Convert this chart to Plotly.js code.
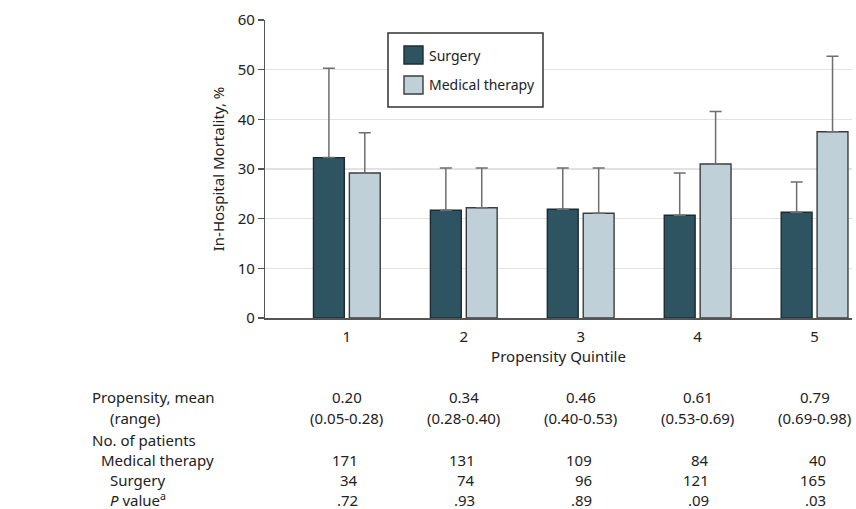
<!DOCTYPE html>
<html>
<head>
<meta charset="utf-8">
<script src="https://cdn.plot.ly/plotly-3.0.1.min.js"></script>
<style>html,body{margin:0;padding:0;background:#fff;}#chart{width:856px;height:509px;}</style>
</head>
<body>
<div id="chart"></div>
<script>
// ---- data ----
const quintiles = [1, 2, 3, 4, 5];
const surgery = [32.3, 21.7, 21.9, 20.7, 21.3];
const surgeryUpper = [50.3, 30.2, 30.2, 29.2, 27.4];
const medical = [29.2, 22.2, 21.1, 31.0, 37.5];
const medicalUpper = [37.3, 30.2, 30.2, 41.6, 52.7];
const propMean = ["0.20", "0.34", "0.46", "0.61", "0.79"];
const propRange = ["(0.05-0.28)", "(0.28-0.40)", "(0.40-0.53)", "(0.53-0.69)", "(0.69-0.98)"];
const nMedical = [171, 131, 109, 84, 40];
const nSurgery = [34, 74, 96, 121, 165];
const pValues = [".72", ".93", ".89", ".09", ".03"];
const rowLabels = ["Propensity, mean", "(range)", "No. of patients", "Medical therapy", "Surgery", "<i>P</i> value<sup>a</sup>"];

// ---- layout helpers ----
const W = 856, H = 509;
const M = {l: 265, r: 4, t: 20, b: 191};
const plotW = W - M.l - M.r, plotH = H - M.t - M.b;
const px2x = px => (px - M.l) / plotW;
const py2y = py => (H - M.b - py) / plotH;
const FONT = "Noto Sans, Open Sans, Liberation Sans, sans-serif";
const TXT = "#222";

const errUp = (v, u) => u.map((x, i) => +(x - v[i]).toFixed(2));

const traces = [
  {
    type: "bar", name: "Surgery", x: quintiles, y: surgery,
    marker: {color: "#2e5461", line: {color: "#1d2b31", width: 1.4}},
    error_y: {type: "data", symmetric: false, array: errUp(surgery, surgeryUpper),
      arrayminus: surgery.map(() => 0), color: "#6e6e6e", thickness: 1.5, width: 6},
    hoverinfo: "skip"
  },
  {
    type: "bar", name: "Medical therapy", x: quintiles, y: medical,
    marker: {color: "#bfd0d9", line: {color: "#3c3c3c", width: 1.4}},
    error_y: {type: "data", symmetric: false, array: errUp(medical, medicalUpper),
      arrayminus: medical.map(() => 0), color: "#6e6e6e", thickness: 1.5, width: 6},
    hoverinfo: "skip"
  }
];

const annotations = [];
const rowY = [397, 418, 440, 460, 480, 500];
const rowX = [90, 108, 90, 99, 108, 108];
rowLabels.forEach((t, i) => annotations.push({
  text: t, xref: "paper", yref: "paper", x: px2x(rowX[i]), y: py2y(rowY[i]),
  xanchor: "left", yanchor: "middle", showarrow: false, font: {family: FONT, size: 15, color: TXT}
}));
quintiles.forEach((q, i) => {
  const common = {xref: "x", yref: "paper", showarrow: false, yanchor: "middle", font: {family: FONT, size: 15, color: TXT}};
  annotations.push(Object.assign({}, common, {text: propMean[i], x: q, y: py2y(rowY[0]), xanchor: "center"}));
  annotations.push(Object.assign({}, common, {text: propRange[i], x: q, y: py2y(rowY[1]), xanchor: "center"}));
  annotations.push(Object.assign({}, common, {text: String(nMedical[i]), x: q, xshift: 13, y: py2y(rowY[3]), xanchor: "right"}));
  annotations.push(Object.assign({}, common, {text: String(nSurgery[i]), x: q, xshift: 13, y: py2y(rowY[4]), xanchor: "right"}));
  annotations.push(Object.assign({}, common, {text: pValues[i], x: q, xshift: 13, y: py2y(rowY[5]), xanchor: "right"}));
});

// custom legend
const legendItems = [{name: traces[0].name, color: traces[0].marker.color, line: traces[0].marker.line.color, cy: 55},
                     {name: traces[1].name, color: traces[1].marker.color, line: traces[1].marker.line.color, cy: 85}];
const shapes = [{
  type: "rect", xref: "paper", yref: "paper", x0: px2x(388), x1: px2x(543), y0: py2y(107), y1: py2y(33),
  line: {color: "#333", width: 1.5}, fillcolor: "#fff", layer: "above"
}];
legendItems.forEach(it => {
  shapes.push({type: "rect", xref: "paper", yref: "paper", x0: px2x(404), x1: px2x(423),
    y0: py2y(it.cy + 9), y1: py2y(it.cy - 9), fillcolor: it.color, line: {color: it.line, width: 1.4}, layer: "above"});
  annotations.push({text: it.name, xref: "paper", yref: "paper", x: px2x(427), y: py2y(it.cy),
    xanchor: "left", yanchor: "middle", showarrow: false, font: {family: FONT, size: 14, color: TXT}});
});

const layout = {
  width: W, height: H, margin: M, paper_bgcolor: "#fff", plot_bgcolor: "#fff",
  font: {family: FONT, size: 15, color: TXT},
  showlegend: false, barmode: "group", bargap: 0.386, bargroupgap: 0.14,
  xaxis: {
    range: [0.3, 5.32], tickvals: quintiles, ticktext: quintiles.map(String), ticks: "",
    showgrid: false, zeroline: false, showline: true, linecolor: "#555", linewidth: 1.5,
    ticklabelstandoff: 4, tickfont: {family: FONT, size: 15, color: TXT},
    title: {text: "Propensity Quintile", standoff: 7, font: {family: FONT, size: 15, color: TXT}},
    fixedrange: true, automargin: false
  },
  yaxis: {
    range: [0, 60], tickvals: [0, 10, 20, 30, 40, 50, 60], ticks: "outside", ticklen: 6,
    tickcolor: "#555", tickwidth: 1.2, showline: true, linecolor: "#555", linewidth: 1.2,
    showgrid: true, gridcolor: "#e2e2e2", gridwidth: 1.5, zeroline: false,
    tickfont: {family: FONT, size: 15, color: TXT},
    title: {text: "In-Hospital Mortality, %", standoff: 9, font: {family: FONT, size: 15, color: TXT}},
    fixedrange: true, automargin: false
  },
  annotations: annotations, shapes: shapes
};

Plotly.newPlot("chart", traces, layout, {displayModeBar: false, staticPlot: true});
</script>
</body>
</html>
